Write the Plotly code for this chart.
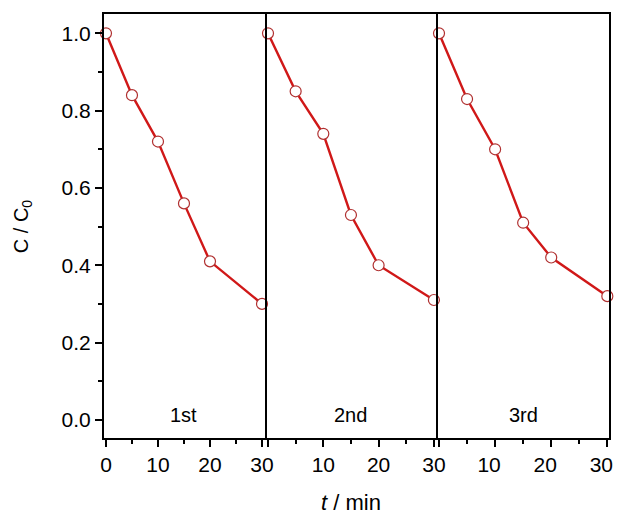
import plotly.graph_objects as go
from plotly.subplots import make_subplots

t = [0, 5, 10, 15, 20, 30]
run1 = [1.00, 0.84, 0.72, 0.56, 0.41, 0.30]
run2 = [1.00, 0.85, 0.74, 0.53, 0.40, 0.31]
run3 = [1.00, 0.83, 0.70, 0.51, 0.42, 0.32]
runs = [run1, run2, run3]
labels = ["1st", "2nd", "3rd"]

FONT = "Liberation Sans, Arial, sans-serif"

fig = make_subplots(rows=1, cols=3, shared_yaxes=True, horizontal_spacing=0,
                    column_widths=[163, 171, 171])

xranges = [[-0.38, 30.96], [-0.18, 30.74], [-0.18, 30.3]]
for i, (vals, lab) in enumerate(zip(runs, labels)):
    fig.add_trace(go.Scatter(
        x=t, y=vals, mode="lines+markers",
        line=dict(color="#d01818", width=2.4),
        marker=dict(symbol="circle", size=11, color="white",
                    line=dict(color="#b03030", width=1.2)),
        showlegend=False, cliponaxis=False), row=1, col=i + 1)
    fig.add_annotation(x=15, y=0.012, text=lab, showarrow=False,
                       xref=f"x{'' if i == 0 else i + 1}", yref="y",
                       font=dict(family=FONT, size=20, color="black"))
    ticktext = ["0", "10", "20", "30"] if i == 0 else ["", "10", "20", "30"]
    fig.update_xaxes(range=xranges[i], tickvals=[0, 10, 20, 30], ticktext=ticktext,
                     ticks="outside", ticklen=7, tickwidth=1.5, tickcolor="black",
                     minor=dict(tickvals=[5, 15, 25], ticks="outside", ticklen=4,
                                tickwidth=1.5, tickcolor="black"),
                     showline=True, linecolor="black", linewidth=2, mirror=True,
                     showgrid=False, zeroline=False, automargin=False,
                     tickfont=dict(family=FONT, size=21, color="black"),
                     ticklabelshift=(-6 if i == 2 else 0),
                     row=1, col=i + 1)
    fig.update_yaxes(range=[-0.047, 1.05], showline=True, linecolor="black", linewidth=2,
                     mirror=(i == 2), showgrid=False, zeroline=False, automargin=False,
                     row=1, col=i + 1)

fig.update_yaxes(tickvals=[0, 0.2, 0.4, 0.6, 0.8, 1.0],
                 ticktext=["0.0", "0.2", "0.4", "0.6", "0.8", "1.0"],
                 ticks="outside", ticklen=7, tickwidth=1.5, tickcolor="black",
                 minor=dict(tickvals=[0.1, 0.3, 0.5, 0.7, 0.9], ticks="outside", ticklen=4,
                            tickwidth=1.5, tickcolor="black"),
                 tickfont=dict(family=FONT, size=21, color="black"),
                 row=1, col=1)
fig.update_yaxes(ticks="", row=1, col=2)
fig.update_yaxes(ticks="", row=1, col=3)

# axis titles
fig.add_annotation(x=-0.162, y=0.5, xref="paper", yref="paper",
                   xanchor="center", yanchor="middle", textangle=-90,
                   text="C / C<sub>0</sub>", showarrow=False,
                   font=dict(family=FONT, size=20, color="black"))
fig.add_annotation(x=0.489, y=-65 / 424, xref="paper", yref="paper",
                   xanchor="center", yanchor="middle",
                   text="<i>t</i> / min", showarrow=False,
                   font=dict(family=FONT, size=22, color="black"))

# page body adds an 8px margin; size the figure so it fits the window without overflow
fig.update_layout(width=606, height=508, margin=dict(l=96, r=5, t=6, b=78),
                  plot_bgcolor="white", paper_bgcolor="white")
fig.write_html("out.html")
